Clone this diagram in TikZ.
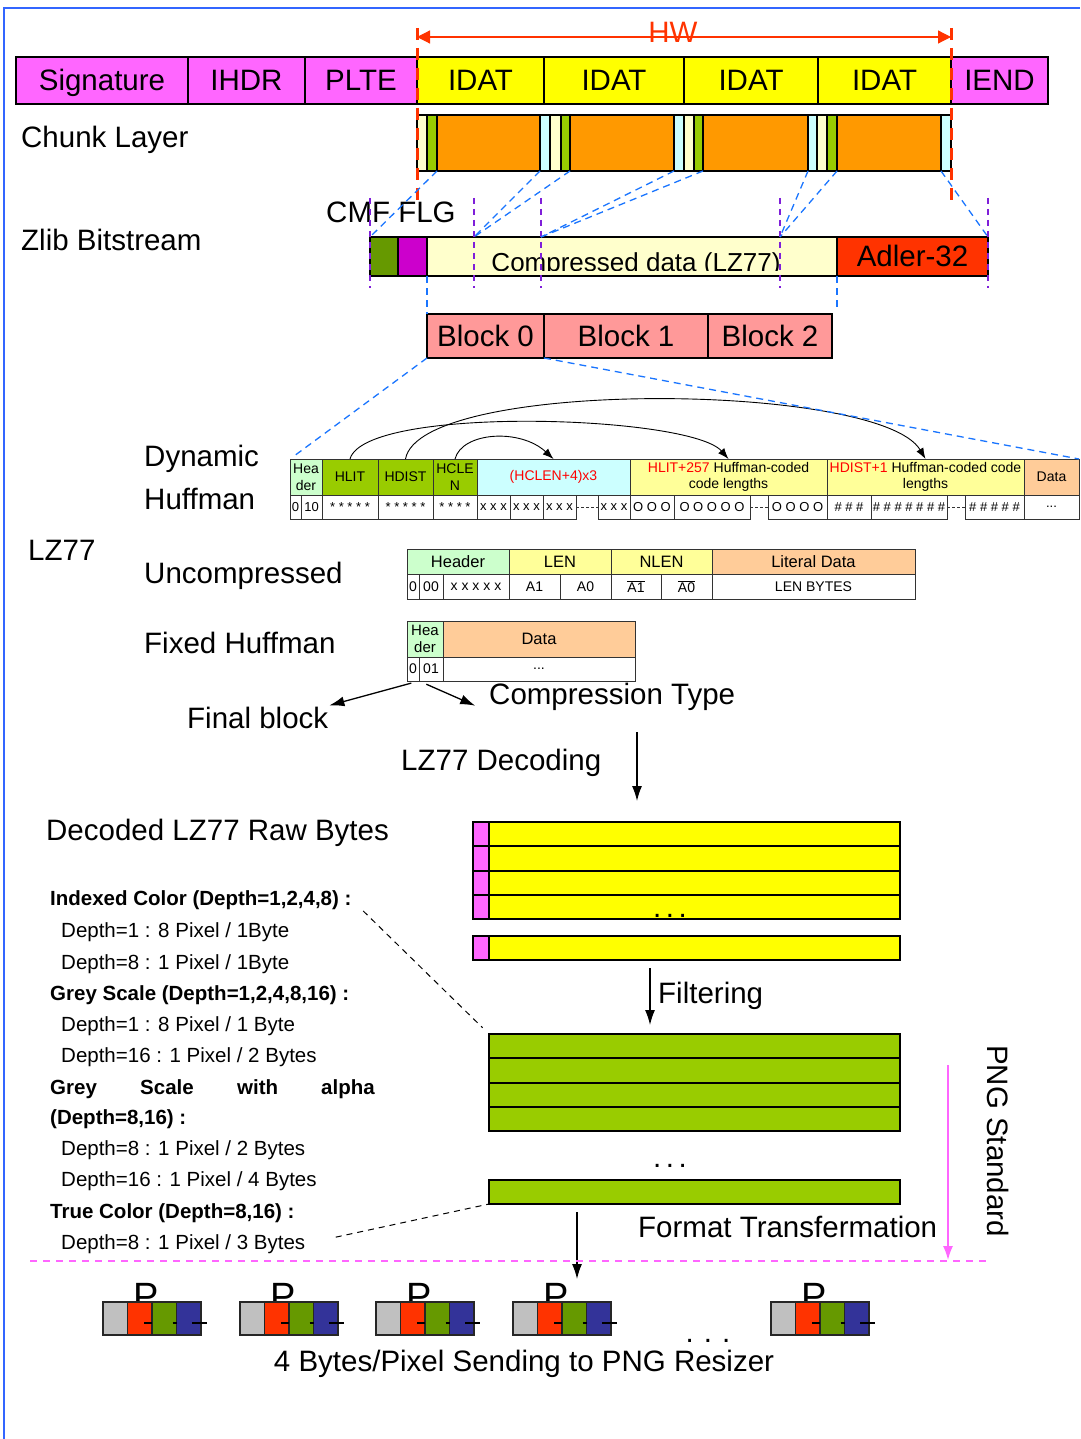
\documentclass[tikz,border=0pt]{standalone}
\usepackage{fontspec}
\setmainfont{Liberation Sans}
\usetikzlibrary{arrows.meta,positioning}
\definecolor{pngInk}{HTML}{000000}
\definecolor{chunkPink}{HTML}{FF66FF}
\definecolor{idatYellow}{HTML}{FFFF00}
\definecolor{lenCream}{HTML}{FFFFCC}
\definecolor{fldGreen}{HTML}{99CC00}
\definecolor{dataOrange}{HTML}{FF9900}
\definecolor{crcCyan}{HTML}{CCFFFF}
\definecolor{cmfGreen}{HTML}{669900}
\definecolor{flgMagenta}{HTML}{CC00CC}
\definecolor{adlerRed}{HTML}{FF3300}
\definecolor{blockPink}{HTML}{FF9999}
\definecolor{hdrGreen}{HTML}{CCFFCC}
\definecolor{lenYellow}{HTML}{FFFF99}
\definecolor{dataPeach}{HTML}{FFCC99}
\definecolor{pngRed}{HTML}{FF0000}
\definecolor{hwRed}{HTML}{FF3300}
\definecolor{mapBlue}{HTML}{1A75FF}
\definecolor{cutViolet}{HTML}{7F1FD9}
\definecolor{frameBlue}{HTML}{3366FF}
\definecolor{stdPink}{HTML}{FF66FF}
\definecolor{pixGrey}{HTML}{C0C0C0}
\definecolor{pixRed}{HTML}{FF3300}
\definecolor{pixGreen}{HTML}{669900}
\definecolor{pixBlue}{HTML}{333399}
\newcommand{\bigf}{\fontsize{29.5}{34}\selectfont}
\newcommand{\tabf}{\fontsize{14}{16.5}\selectfont}
\newcommand{\botf}{\fontsize{13}{15}\selectfont}
\newcommand{\midf}{\fontsize{16.5}{19}\selectfont}
\newcommand{\lstf}{\fontsize{20.5}{24}\selectfont}
\newcommand{\gapdots}{.\kern4.5pt.\kern4.5pt.}
% one field of a layout row, given by its corners
\newcommand{\fld}[7]{%
  \node[#6,minimum width={((#4)-(#2))*1pt},minimum height={((#5)-(#3))*1pt}] (#1)
    at ({((#2)+(#4))/2},{((#3)+(#5))/2}) {#7};}
\tikzset{
  every picture/.style={font=\bigf, text=pngInk},
  fld box/.style={draw=pngInk, line width=0.8pt, inner sep=0pt, outer sep=0pt, align=center},
  chunk fld/.style={fld box, line width=1.6pt, text height=21pt, text depth=1pt},
  tab fld/.style={fld box, font=\tabf, draw=black!80},
  bot fld/.style={fld box, font=\botf, draw=black!80, fill=white},
  head fld/.style={fld box, font=\midf, draw=black!80},
  row fld/.style={fld box, line width=1.6pt},
  pix fld/.style={fld box, line width=1.4pt, draw=black!85},
  big label/.style={font=\bigf, inner sep=1pt},
  list text/.style={font=\lstf, inner sep=0pt},
  frame line/.style={draw=frameBlue, line width=2.5pt},
  hw arrow/.style={{Triangle[length=13pt,width=13pt]}-{Triangle[length=13pt,width=13pt]},
    draw=hwRed, fill=hwRed, line width=1.2pt},
  hw guide/.style={draw=hwRed, line width=3pt, dash pattern=on 12pt off 8pt},
  map guide/.style={draw=mapBlue, line width=1.3pt, dash pattern=on 7pt off 5pt},
  cut guide/.style={draw=cutViolet, line width=1.2pt, dash pattern=on 6pt off 5pt},
  note guide/.style={draw=pngInk, line width=1pt, dash pattern=on 6pt off 5pt},
  gap dash/.style={draw=black!80, line width=0.8pt, dash pattern=on 3pt off 2pt},
  arc arrow/.style={-{Latex[length=11pt,width=8pt]}, draw=pngInk, line width=0.9pt},
  flow arrow/.style={-{Latex[length=15pt,width=10pt]}, draw=pngInk, line width=1.3pt},
  std arrow/.style={-{Latex[length=14pt,width=10pt]}, draw=stdPink, line width=1.5pt},
  std guide/.style={draw=stdPink, line width=1.3pt, dash pattern=on 7pt off 6pt},
  pix tick/.style={draw=pngInk, line width=1.8pt},
  pix letter/.style={font=\fontsize{38}{38}\selectfont, inner sep=0pt}
}
\begin{document}
\begin{tikzpicture}[x=1pt,y=-1pt]
  \useasboundingbox (0,0) rectangle (1080,1439);
  \coordinate (frameBL) at (4,1439);
  \coordinate (frameTL) at (4,8);
  \coordinate (frameTR) at (1080,8);
  \draw[frame line] (frameBL) -- (frameTL) -- (frameTR);

  % HW span
  \node[big label,text=hwRed,anchor=base] (hwlbl) at (673,43) {HW};
  \coordinate (hwL) at (417,37);
  \coordinate (hwR) at (951,37);
  \draw[hw arrow] (hwL) -- (hwR);

  % chunk layer
  \fld{sig}{16}{57}{188}{104}{chunk fld,fill=chunkPink}{Signature}
  \fld{ihdr}{188}{57}{305}{104}{chunk fld,fill=chunkPink}{IHDR}
  \fld{plte}{305}{57}{417}{104}{chunk fld,fill=chunkPink}{PLTE}
  \fld{idat1}{417}{57}{544}{104}{chunk fld,fill=idatYellow}{IDAT}
  \fld{idat2}{544}{57}{684}{104}{chunk fld,fill=idatYellow}{IDAT}
  \fld{idat3}{684}{57}{818}{104}{chunk fld,fill=idatYellow}{IDAT}
  \fld{idat4}{818}{57}{951}{104}{chunk fld,fill=idatYellow}{IDAT}
  \fld{iend}{951}{57}{1048}{104}{chunk fld,fill=chunkPink}{IEND}
  \node[big label,anchor=base west] (chunklbl) at (20,148) {Chunk Layer};
  \foreach \a/\b/\c/\d/\e [count=\i] in {417/427/437/540/550,550/561/570/674/684,684/694/703/808/817,817/827/837/941/951}{
    \fld{ln\i}{\a}{115}{\b}{171}{chunk fld,fill=lenCream}{}
    \fld{gn\i}{\b}{115}{\c}{171}{chunk fld,fill=fldGreen}{}
    \fld{od\i}{\c}{115}{\d}{171}{chunk fld,fill=dataOrange}{}
    \fld{cr\i}{\d}{115}{\e}{171}{chunk fld,fill=crcCyan}{}
  }
  \coordinate (hwLtop) at (417,28);
  \coordinate (hwLbot) at (417,205);
  \coordinate (hwRtop) at (951,28);
  \coordinate (hwRbot) at (951,205);
  \draw[hw guide] (hwLtop) -- (hwLbot);
  \draw[hw guide] (hwRtop) -- (hwRbot);

  % zlib bitstream
  \node[big label,anchor=base west] (zliblbl) at (20,251) {Zlib Bitstream};
  \node[big label,anchor=base west] (cmflbl) at (325,223) {CMF FLG};
  \fld{cmf}{370}{237}{398}{276}{chunk fld,fill=cmfGreen}{}
  \fld{flg}{398}{237}{427}{276}{chunk fld,fill=flgMagenta}{}
  \fld{data}{427}{237}{837}{276}{chunk fld,fill=lenCream}{}
  \fld{adler}{837}{237}{988}{276}{chunk fld,fill=adlerRed}{Adler-32}
  \begin{scope}
    \clip (427,238) rectangle (837,270.5);
    \node[font=\fontsize{26}{30}\selectfont,inner sep=0pt,anchor=base] (datalbl) at (636,271) {Compressed data (LZ77)};
  \end{scope}
  \foreach \x [count=\k] in {370,474,541,780,988}{
    \coordinate (cut\k a) at (\x,198);
    \coordinate (cut\k b) at (\x,288);
    \draw[cut guide] (cut\k a) -- (cut\k b);
  }
  \draw[map guide] (gn1.south east) -- (cmf.north west);
  \draw[map guide] (cr1.south west) -- (cut2a |- data.north);
  \draw[map guide] (gn2.south east) -- (cut2a |- data.north);
  \draw[map guide] (cr2.south west) -- (cut3a |- data.north);
  \draw[map guide] (gn3.south east) -- (cut3a |- data.north);
  \draw[map guide] (cr3.south west) -- (cut4a |- data.north);
  \draw[map guide] (gn4.south east) -- (cut4a |- data.north);
  \draw[map guide] (cr4.south west) -- (adler.north east);

  % deflate blocks
  \fld{blk0}{427}{314}{544}{358}{chunk fld,line width=1.2pt,fill=blockPink}{Block 0}
  \fld{blk1}{544}{314}{708}{358}{chunk fld,line width=1.2pt,fill=blockPink}{Block 1}
  \fld{blk2}{708}{314}{832}{358}{chunk fld,line width=1.2pt,fill=blockPink}{Block 2}
  \draw[map guide] (data.south west) -- (blk0.north west);
  \draw[map guide,shorten >=3pt] (data.south east) -- (data.south east |- blk2.north);

  % dynamic huffman
  \node[big label,anchor=base west,align=left,font=\fontsize{29.5}{43}\selectfont] (dynlbl) at (143,509) {Dynamic\\Huffman};
  \fld{dhdr}{290}{459}{322}{495}{tab fld,fill=hdrGreen}{Hea\\der}
  \fld{dhlit}{322}{459}{378}{495}{tab fld,fill=fldGreen}{HLIT}
  \fld{dhdist}{378}{459}{433}{495}{tab fld,fill=fldGreen}{HDIST}
  \fld{dhclen}{433}{459}{477}{495}{tab fld,fill=fldGreen}{HCLE\\N}
  \fld{dcl}{477}{459}{630}{495}{tab fld,fill=crcCyan,text=pngRed}{(HCLEN+4)x3}
  \fld{dlit}{630}{459}{827}{495}{tab fld,fill=lenYellow}{\textcolor{pngRed}{HLIT+257} Huffman-coded\\code lengths}
  \fld{ddist}{827}{459}{1024}{495}{tab fld,fill=lenYellow}{\textcolor{pngRed}{HDIST+1} Huffman-coded code\\lengths}
  \fld{ddat}{1024}{459}{1079}{495}{tab fld,fill=dataPeach}{Data}
  \fld{db0}{290}{495}{301}{519}{bot fld}{0}
  \fld{db10}{301}{495}{322}{519}{bot fld}{10}
  \fld{dbhl}{322}{495}{378}{519}{bot fld}{* * * * *}
  \fld{dbhd}{378}{495}{433}{519}{bot fld}{* * * * *}
  \fld{dbhc}{433}{495}{477}{519}{bot fld}{* * * *}
  \fld{dbx1}{477}{495}{510}{519}{bot fld}{x x x}
  \fld{dbx2}{510}{495}{543}{519}{bot fld}{x x x}
  \fld{dbx3}{543}{495}{576}{519}{bot fld}{x x x}
  \fld{dbx4}{598}{495}{630}{519}{bot fld}{x x x}
  \fld{dbo1}{630}{495}{674}{519}{bot fld}{O O O}
  \fld{dbo2}{674}{495}{750}{519}{bot fld}{O O O O O}
  \fld{dbo3}{768}{495}{827}{519}{bot fld}{O O O O}
  \fld{dbs1}{827}{495}{871}{519}{bot fld}{\# \# \#}
  \fld{dbs2}{871}{495}{947}{519}{bot fld}{\# \# \# \# \# \# \#}
  \fld{dbs3}{965}{495}{1024}{519}{bot fld}{\# \# \# \# \#}
  \fld{dbd}{1024}{495}{1079}{519}{bot fld}{...}
  \draw[gap dash] (dbx3.east) -- (dbx4.west);
  \draw[gap dash] (dbo2.east) -- (dbo3.west);
  \draw[gap dash] (dbs2.east) -- (dbs3.west);
  \draw[arc arrow] (dhclen.north) .. controls (462,432) and (520,428) .. (dcl.north);
  \draw[arc arrow] (dhlit.north) .. controls (365,405) and (690,415) .. (dlit.north);
  \draw[arc arrow] (dhdist.north) .. controls (420,378) and (880,382) .. (ddist.north);
  \draw[map guide,shorten >=3pt] (blk0.south west) -- (dhdr.north west);
  \draw[map guide] (blk1.south west) -- (ddat.north east);

  % stored and fixed blocks
  \node[big label,anchor=base west] (lzlbl) at (27,560) {LZ77};
  \node[big label,anchor=base west] (unclbl) at (143,583) {Uncompressed};
  \fld{uhdr}{407}{549}{509}{574}{head fld,fill=hdrGreen}{Header}
  \fld{ulen}{509}{549}{611}{574}{head fld,fill=lenYellow}{LEN}
  \fld{unlen}{611}{549}{712}{574}{head fld,fill=lenYellow}{NLEN}
  \fld{ulit}{712}{549}{915}{574}{head fld,fill=dataPeach}{Literal Data}
  \fld{ub0}{407}{574}{419}{599}{bot fld,font=\tabf}{0}
  \fld{ub00}{419}{574}{443}{599}{bot fld,font=\tabf}{00}
  \fld{ubx}{443}{574}{509}{599}{bot fld,font=\tabf}{x x x x x}
  \fld{uba1}{509}{574}{560}{599}{bot fld,font=\tabf}{A1}
  \fld{uba0}{560}{574}{611}{599}{bot fld,font=\tabf}{A0}
  \fld{ubn1}{611}{574}{661}{599}{bot fld,font=\tabf}{$\overline{\hbox{A1}}$}
  \fld{ubn0}{661}{574}{712}{599}{bot fld,font=\tabf}{$\overline{\hbox{A0}}$}
  \fld{ubytes}{712}{574}{915}{599}{bot fld,font=\tabf}{LEN BYTES}
  \node[big label,anchor=base west] (fixlbl) at (143,653) {Fixed Huffman};
  \fld{fhdr}{407}{621}{443}{657}{tab fld,font=\fontsize{15}{17}\selectfont,fill=hdrGreen}{Hea\\der}
  \fld{fdat}{443}{621}{635}{657}{head fld,fill=dataPeach}{Data}
  \fld{f0}{407}{657}{419}{681}{bot fld,font=\tabf}{0}
  \fld{f01}{419}{657}{443}{681}{bot fld,font=\tabf}{01}
  \fld{fdots}{443}{657}{635}{681}{bot fld,font=\tabf}{...}
  \node[big label,anchor=base west] (finalblk) at (186,728) {Final block};
  \node[big label,anchor=base west] (comptype) at (488,704) {Compression Type};
  \draw[flow arrow,shorten <=8pt] (f0.south east) -- (finalblk.north east);
  \draw[flow arrow,shorten <=8pt,shorten >=14pt] (f0.south east) -- (comptype.south west);

  % decoded raw bytes
  \node[big label,anchor=base west] (declbl) at (400,770) {LZ77 Decoding};
  \coordinate (deca) at (637,732);
  \coordinate (decb) at (637,801);
  \draw[flow arrow] (deca) -- (decb);
  \node[big label,anchor=base west] (rawlbl) at (45,840) {Decoded LZ77 Raw Bytes};
  \foreach \t/\b [count=\i] in {822/846,846/871,871/895,895/919,936/960}{
    \fld{yr\i}{473}{\t}{900}{\b}{row fld,fill=idatYellow}{}
    \fld{yf\i}{473}{\t}{489}{\b}{row fld,fill=chunkPink}{}
  }
  \node[big label,anchor=base] (ydots) at (670,917) {\gapdots};
  \coordinate (filta) at (650,968);
  \coordinate (filtb) at (650,1025);
  \draw[flow arrow] (filta) -- (filtb);
  \node[big label,anchor=base west] (filtlbl) at (657,1003) {Filtering};
  \foreach \t/\b [count=\i] in {1034/1058,1058/1083,1083/1107,1107/1131,1180/1204}{
    \fld{gr\i}{489}{\t}{900}{\b}{row fld,fill=fldGreen}{}
  }
  \node[big label,anchor=base] (gdots) at (670,1167) {\gapdots};

  % colour types
  \foreach \yb/\xl/\txt [count=\k] in {
    905/50/{\bfseries Indexed Color (Depth=1,2,4,8) :},
    937/61/{Depth=1 : 8 Pixel / 1Byte},
    969/61/{Depth=8 : 1 Pixel / 1Byte},
    1000/50/{\bfseries Grey Scale (Depth=1,2,4,8,16) :},
    1031/61/{Depth=1 : 8 Pixel / 1 Byte},
    1062/61/{Depth=16 : 1 Pixel / 2 Bytes},
    1124/50/{\bfseries (Depth=8,16) :},
    1155/61/{Depth=8 : 1 Pixel / 2 Bytes},
    1186/61/{Depth=16 : 1 Pixel / 4 Bytes},
    1218/50/{\bfseries True Color (Depth=8,16) :},
    1249/61/{Depth=8 : 1 Pixel / 3 Bytes}}{
    \node[list text,anchor=base west] (lst\k) at (\xl,\yb) {\txt};
  }
  \foreach \w/\xw [count=\j] in {Grey/50,Scale/140,with/237,alpha/321}{
    \node[list text,anchor=base west] (gsa\j) at (\xw,1094) {\bfseries\w};
  }
  \draw[note guide,shorten <=16pt,shorten >=9pt] (lst1.east) -- (gr1.north west);
  \draw[note guide,shorten <=31pt] (lst11.east) -- (gr5.south west);

  % format transformation
  \coordinate (fmta) at (577,1212);
  \coordinate (fmtb) at (577,1279);
  \draw[flow arrow] (fmta) -- (fmtb);
  \node[big label,anchor=base west] (fmtlbl) at (637,1237) {Format Transfermation};
  \coordinate (stda) at (948,1065);
  \coordinate (stdb) at (948,1260);
  \draw[std arrow] (stda) -- (stdb);
  \node[big label,rotate=-90] (stdlbl) at (998,1141) {PNG Standard};
  \coordinate (stdl) at (30,1261);
  \coordinate (stdr) at (990,1261);
  \draw[std guide] (stdl) -- (stdr);

  % pixels to the resizer
  \foreach \x [count=\g] in {103,240,376,513,771}{
    \node[pix letter,anchor=base] (pl\g) at (\x+43,1309) {P};
    \fld{pa\g}{\x}{1302}{\x+24.5}{1335}{pix fld,fill=pixGrey}{}
    \fld{pr\g}{\x+24.5}{1302}{\x+49}{1335}{pix fld,fill=pixRed}{}
    \fld{pg\g}{\x+49}{1302}{\x+73.5}{1335}{pix fld,fill=pixGreen}{}
    \fld{pb\g}{\x+73.5}{1302}{\x+98}{1335}{pix fld,fill=pixBlue}{}
    \draw[pix tick] ([xshift=-8pt,yshift=-4.5pt]pr\g.east) -- ([yshift=-4.5pt]pr\g.east);
    \draw[pix tick] ([xshift=-4pt,yshift=-4.5pt]pg\g.east) -- ([yshift=-4.5pt]pg\g.east);
    \draw[pix tick] ([xshift=-9pt,yshift=-4.5pt]pb\g.east) -- ([xshift=6pt,yshift=-4.5pt]pb\g.east);
  }
  \node[big label,anchor=base] (pdots) at (708,1342) {.\kern10pt.\kern10pt.};
  \node[big label,anchor=base] (sendlbl) at (524,1371) {4 Bytes/Pixel Sending to PNG Resizer};
\end{tikzpicture}
\end{document}
